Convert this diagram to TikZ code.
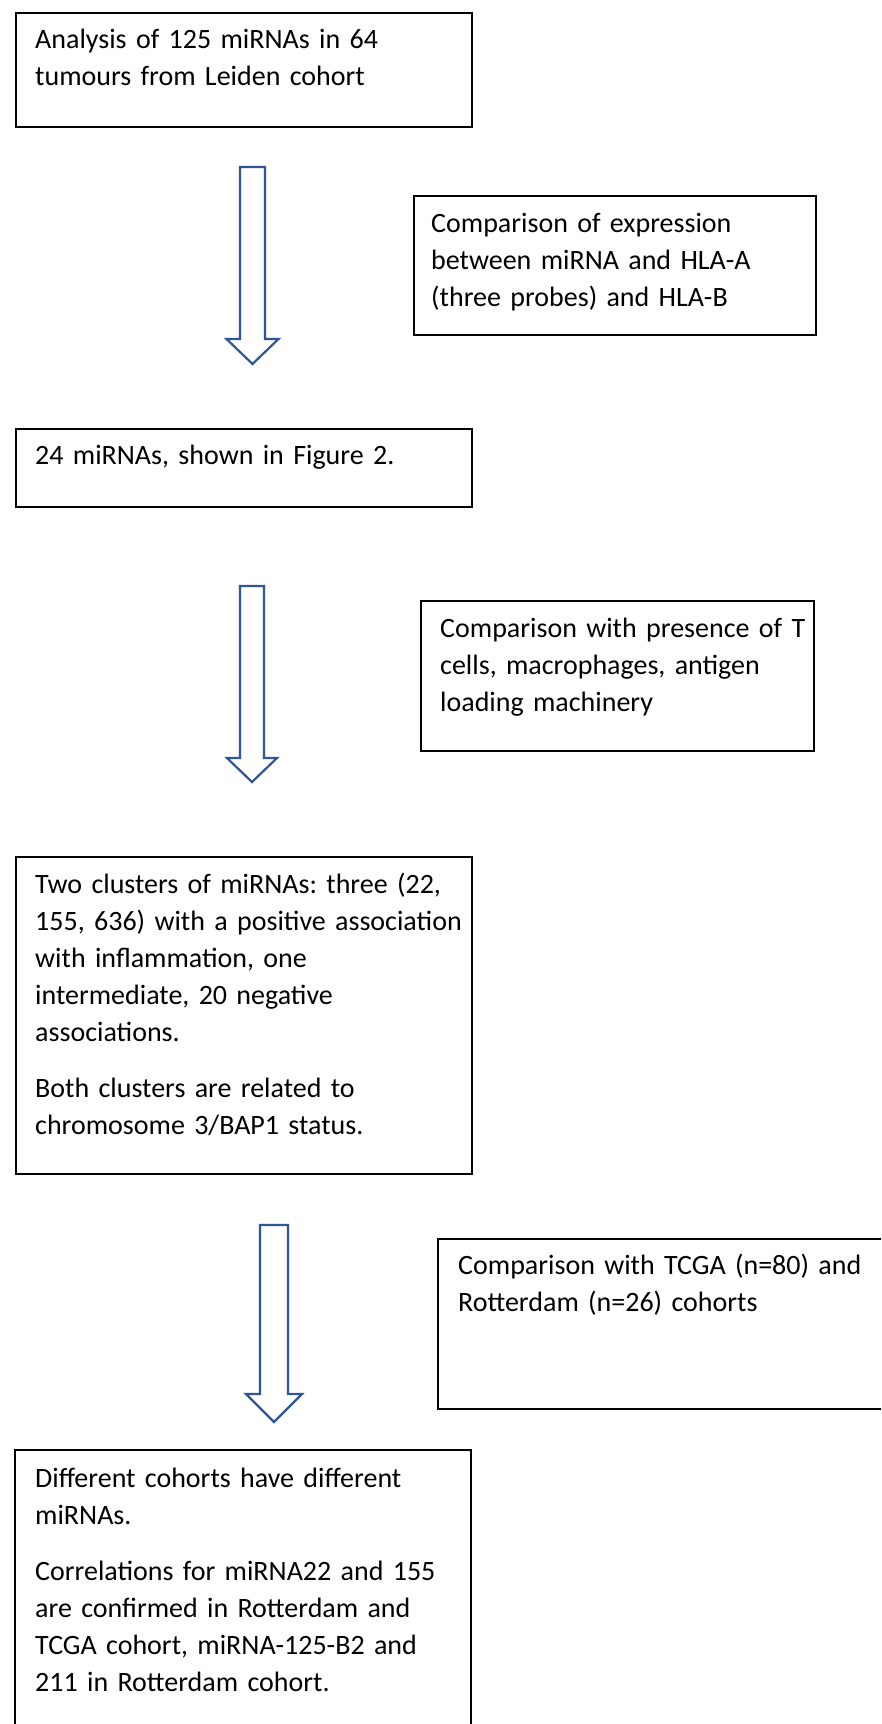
\documentclass[tikz,border=0pt]{standalone}
\usepackage{fontspec}
\setmainfont{Carlito}
\frenchspacing
\definecolor{arrowblue}{RGB}{47,85,151}
\newcommand\hollowarrow[7]{% name, cx, top, headbase, tip, shaft half, head half
  \coordinate (#1-tip) at (#2,#5);
  \draw[blockarr] (#2-#6,#3) -- (#2+#6,#3) -- (#2+#6,#4) -- (#2+#7,#4) -- (#1-tip)
    -- (#2-#7,#4) -- (#2-#6,#4) -- cycle;}
\begin{document}
\begin{tikzpicture}[x=1pt,y=-1pt,
  box/.style={draw=black, line width=2pt, anchor=north west, inner sep=0pt},
  frame/.style={anchor=north west, inner sep=0pt},
  edge/.style={draw=black, line width=2pt},
  txt/.style={anchor=base west, inner sep=0pt, text width=#1, align=left,
    font=\fontsize{28}{37}\selectfont},
  txt/.default=440pt,
  blockarr/.style={draw=arrowblue, line width=2.2pt, fill=white, line join=miter}]
\useasboundingbox[fill=white] (0,0) rectangle (881,1724);
\clip (0,0) rectangle (881,1724);

% box 1
\node[box, minimum width=456pt, minimum height=114pt] (b1) at (15,12) {};
\node[txt] (t1) at (35,48) {Analysis of 125 miRNAs in 64\\tumours from Leiden cohort};

% box 2
\node[box, minimum width=402pt, minimum height=139pt] (b2) at (413,195) {};
\node[txt=380pt] (t2) at (431,232) {Comparison of expression\\between miRNA and HLA-A\\(three probes) and HLA-B};

% box 3
\node[box, minimum width=456pt, minimum height=78pt] (b3) at (15,428) {};
\node[txt] (t3) at (35,464) {24 miRNAs, shown in Figure 2.};

% box 4
\node[box, minimum width=393pt, minimum height=150pt] (b4) at (420,600) {};
\node[txt=380pt] (t4) at (440,637) {Comparison with presence of T\\cells, macrophages, antigen\\loading machinery};

% box 5
\node[box, minimum width=456pt, minimum height=317pt] (b5) at (15,856) {};
\node[txt] (t5) at (35,893) {Two clusters of miRNAs: three (22,\\155, 636) with a positive association\\with inflammation, one\\intermediate, 20 negative\\associations.\\[19pt]Both clusters are related to\\chromosome 3/BAP1 status.};

% box 6 (runs past the right edge of the picture)
\node[frame, minimum width=460pt, minimum height=170pt] (b6) at (438,1239) {};
\draw[edge] (b6.north east) -- (b6.north west) -- (b6.south west) -- (b6.south east);
\node[txt=420pt] (t6) at (458,1274) {Comparison with TCGA (n=80) and\\Rotterdam (n=26) cohorts};

% box 7 (runs past the bottom edge of the picture)
\node[frame, minimum width=456pt, minimum height=300pt] (b7) at (15,1450) {};
\draw[edge] (b7.south west) -- (b7.north west) -- (b7.north east) -- (b7.south east);
\node[txt] (t7) at (35,1487) {Different cohorts have different\\miRNAs.\\[19pt]Correlations for miRNA22 and 155\\are confirmed in Rotterdam and\\TCGA cohort, miRNA-125-B2 and\\211 in Rotterdam cohort.};

% hollow block arrows
\hollowarrow{a1}{252.5}{167}{339}{364}{12.5}{26}
\hollowarrow{a2}{252}{586}{758}{782}{12}{25}
\hollowarrow{a3}{274}{1225}{1394}{1422}{14}{28}
\end{tikzpicture}
\end{document}
